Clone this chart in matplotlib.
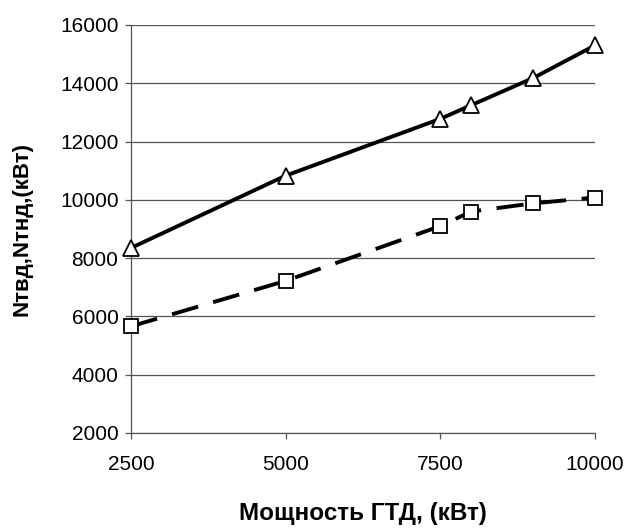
import matplotlib
matplotlib.use("Agg")
import matplotlib.pyplot as plt

# power of the gas turbine, kW
gtd_power = [2500, 5000, 7500, 8000, 9000, 10000]
# high-pressure turbine power (triangles, solid)
n_tvd = [8350, 10830, 12780, 13250, 14180, 15300]
# low-pressure turbine power (squares, dashed)
n_tnd = [5660, 7220, 9100, 9600, 9880, 10080]

x_ticks = [2500, 5000, 7500, 10000]
y_ticks = [2000, 4000, 6000, 8000, 10000, 12000, 14000, 16000]

plt.rcParams["font.family"] = ["Liberation Sans", "DejaVu Sans"]

fig = plt.figure(figsize=(6.3, 5.28), dpi=100)
ax = fig.add_axes([131 / 630, 95 / 528, 464 / 630, 408 / 528])

ax.plot(gtd_power, n_tvd, color="black", lw=2.8, marker="^", ms=12,
        mfc="white", mec="black", mew=1.3, zorder=3, clip_on=False)
ax.plot(gtd_power, n_tnd, color="black", lw=2.8, dashes=(7, 4), marker="s",
        ms=10, mfc="white", mec="black", mew=1.3, zorder=3, clip_on=False)

ax.set_xlim(2500, 10000)
ax.set_ylim(2000, 16000)
ax.set_xticks(x_ticks)
ax.set_yticks(y_ticks)
ax.grid(axis="y", color="#555555", lw=0.9)
ax.set_axisbelow(True)

for side in ("top", "right"):
    ax.spines[side].set_visible(False)
for side in ("left", "bottom"):
    ax.spines[side].set_color("#555555")
    ax.spines[side].set_linewidth(0.9)

ax.tick_params(axis="both", labelsize=15, length=4, color="#555555", width=0.9)
ax.tick_params(axis="x", pad=12)
ax.tick_params(axis="y", pad=5)

ax.set_xlabel("Мощность ГТД, (кВт)", fontsize=17.5, fontweight="bold", labelpad=20)
ax.set_ylabel("Nтвд,Nтнд,(кВт)", fontsize=16, fontweight="bold", labelpad=20)

fig.savefig("out.png", dpi=100)
